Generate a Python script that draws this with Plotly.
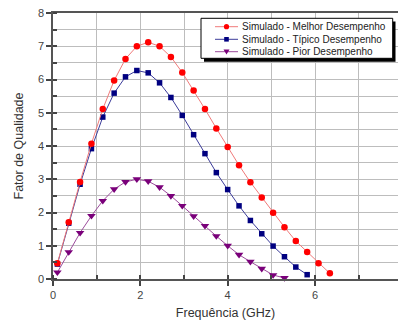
import plotly.graph_objects as go

# Frequency sweep (GHz)
freq = [0.10, 0.36, 0.62, 0.88, 1.14, 1.40, 1.66, 1.92, 2.18, 2.44, 2.70, 2.96, 3.22,
        3.48, 3.74, 4.00, 4.26, 4.52, 4.78, 5.04, 5.30, 5.56, 5.82, 6.08, 6.34]

# Quality factor per scenario
q_melhor = [0.47, 1.71, 2.92, 4.07, 5.11, 5.97, 6.62, 7.00, 7.12, 7.00, 6.68, 6.21, 5.67,
            5.11, 4.53, 3.97, 3.42, 2.91, 2.45, 1.99, 1.56, 1.14, 0.81, 0.47, 0.17]
q_tipico = [0.45, 1.68, 2.85, 3.92, 4.87, 5.59, 6.08, 6.27, 6.20, 5.90, 5.46, 4.92, 4.34,
            3.77, 3.20, 2.69, 2.20, 1.76, 1.36, 0.99, 0.67, 0.36, 0.13]
q_pior = [0.20, 0.81, 1.39, 1.90, 2.35, 2.70, 2.92, 3.00, 2.94, 2.76, 2.50, 2.20, 1.89,
          1.60, 1.29, 1.00, 0.73, 0.52, 0.31, 0.12, 0.03]

names = ["Simulado - Melhor Desempenho", "Simulado - Típico Desempenho",
         "Simulado - Pior Desempenho"]

W, H = 398, 324
ML, MR, MT, MB = 53, 0, 13, 45
PW, PH = W - ML - MR, H - MT - MB

FONT = "Liberation Sans, Arial, sans-serif"
GRID = "#bdbdbd"

styles = [
    dict(line="#f07a7a", marker="#ff0000", symbol="circle", size=6.5),
    dict(line="#3c3c9a", marker="#000080", symbol="square", size=5.5),
    dict(line="#9c4c9c", marker="#7a007a", symbol="triangle-down", size=7.5),
]
series = [q_melhor, q_tipico, q_pior]

fig = go.Figure()
# drawn worst-first so the best-case curve sits on top where they overlap
for name, ys, st in reversed(list(zip(names, series, styles))):
    fig.add_trace(go.Scatter(
        x=freq[:len(ys)], y=ys, name=name, mode="lines+markers",
        line=dict(color=st["line"], width=1),
        marker=dict(color=st["marker"], symbol=st["symbol"], size=st["size"],
                    line=dict(width=0)),
        showlegend=False, cliponaxis=False,
    ))


def px(x):
    return (x - ML) / PW


def py(y):
    return (H - MB - y) / PH


# Legend panel with drop shadow
shapes = [
    dict(type="rect", xref="paper", yref="paper", x0=px(204), x1=px(395.5),
         y0=py(61.7), y1=py(21.5), fillcolor="#000000", line=dict(width=0), layer="above"),
    dict(type="rect", xref="paper", yref="paper", x0=px(201), x1=px(392.7),
         y0=py(58.3), y1=py(18.3), fillcolor="#ffffff",
         line=dict(color="#000000", width=1), layer="above"),
]
annotations = []
rows = [26.7, 39.3, 51.7]
for name, st, ry in zip(names, styles, rows):
    shapes.append(dict(type="line", xref="paper", yref="paper", x0=px(215), x1=px(238),
                       y0=py(ry), y1=py(ry), line=dict(color=st["line"], width=1),
                       layer="above"))
    cx, r = 226.5, 2.6
    if st["symbol"] == "circle":
        shapes.append(dict(type="circle", xref="paper", yref="paper",
                           x0=px(cx - r), x1=px(cx + r), y0=py(ry + r), y1=py(ry - r),
                           fillcolor=st["marker"], line=dict(width=0), layer="above"))
    elif st["symbol"] == "square":
        r = 2.3
        shapes.append(dict(type="rect", xref="paper", yref="paper",
                           x0=px(cx - r), x1=px(cx + r), y0=py(ry + r), y1=py(ry - r),
                           fillcolor=st["marker"], line=dict(width=0), layer="above"))
    else:
        r = 3
        path = (f"M {px(cx - r)} {py(ry - 2.2)} L {px(cx + r)} {py(ry - 2.2)} "
                f"L {px(cx)} {py(ry + 2.8)} Z")
        shapes.append(dict(type="path", xref="paper", yref="paper", path=path,
                           fillcolor=st["marker"], line=dict(width=0), layer="above"))
    annotations.append(dict(text=name, xref="paper", yref="paper", x=px(240), y=py(ry),
                            xanchor="left", yanchor="middle", showarrow=False,
                            font=dict(family=FONT, size=10, color="#222222")))

fig.update_layout(
    width=W, height=H,
    margin=dict(l=ML, r=MR, t=MT, b=MB, pad=0),
    paper_bgcolor="#ffffff", plot_bgcolor="#ffffff",
    font=dict(family=FONT, size=11, color="#333333"),
    shapes=shapes, annotations=annotations,
    showlegend=False,
)
fig.update_xaxes(
    range=[0, 7.9], dtick=2, tick0=0,
    showgrid=True, gridcolor=GRID, gridwidth=1,
    minor=dict(dtick=1, tick0=0, showgrid=True, gridcolor=GRID, gridwidth=1,
               ticks="inside", ticklen=4, tickcolor="#444444", tickwidth=1.5),
    showline=True, linecolor="#555555", linewidth=2, mirror=True,
    ticks="outside", ticklen=5, tickwidth=1.5, tickcolor="#444444",
    zeroline=False,
    title=dict(text="Frequência (GHz)", font=dict(family=FONT, size=12.5, color="#333333"),
               standoff=8),
    tickfont=dict(family=FONT, size=11, color="#444444"),
)
fig.update_yaxes(
    range=[0, 8], dtick=1, tick0=0,
    showgrid=True, gridcolor=GRID, gridwidth=1,
    minor=dict(dtick=0.5, tick0=0, showgrid=True, gridcolor=GRID, gridwidth=1,
               ticks="inside", ticklen=4, tickcolor="#444444", tickwidth=1.5),
    showline=True, linecolor="#555555", linewidth=1.5,
    ticks="outside", ticklen=5, tickwidth=1.5, tickcolor="#444444",
    zeroline=False,
    title=dict(text="Fator de Qualidade", font=dict(family=FONT, size=12.5, color="#333333"),
               standoff=12),
    tickfont=dict(family=FONT, size=11, color="#444444"),
)

fig.write_html("out.html")
